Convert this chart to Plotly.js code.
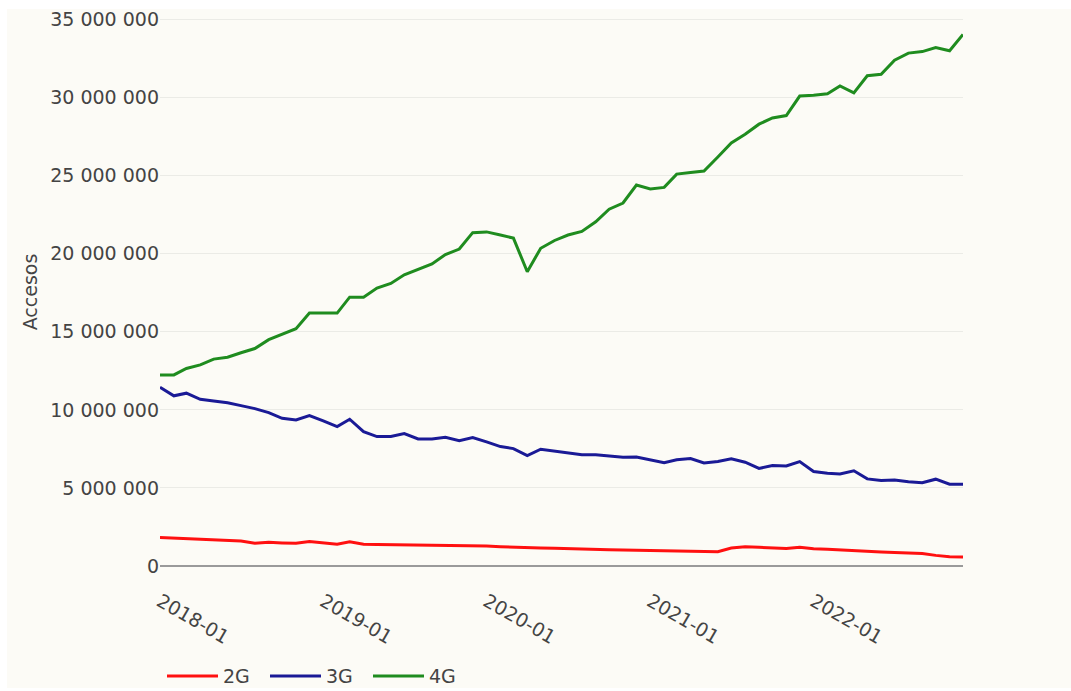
<!DOCTYPE html>
<html>
<head>
<meta charset="utf-8">
<script src="https://cdn.plot.ly/plotly-3.0.1.min.js"></script>
<style>
  html, body { margin: 0; padding: 0; background: #ffffff; width: 1071px; height: 691px; overflow: hidden; }
  #chart { position: absolute; left: 7px; top: 9px; width: 1064px; height: 679px; }
</style>
</head>
<body>
<div id="chart"></div>
<script>
const months = [
  '2018-01','2018-02','2018-03','2018-04','2018-05','2018-06','2018-07','2018-08','2018-09','2018-10','2018-11','2018-12',
  '2019-01','2019-02','2019-03','2019-04','2019-05','2019-06','2019-07','2019-08','2019-09','2019-10','2019-11','2019-12',
  '2020-01','2020-02','2020-03','2020-04','2020-05','2020-06','2020-07','2020-08','2020-09','2020-10','2020-11','2020-12',
  '2021-01','2021-02','2021-03','2021-04','2021-05','2021-06','2021-07','2021-08','2021-09','2021-10','2021-11','2021-12',
  '2022-01','2022-02','2022-03','2022-04','2022-05','2022-06','2022-07','2022-08','2022-09','2022-10','2022-11','2022-12'
];
// values in millions of accesses
const acc2G = [
  1.82, 1.78, 1.74, 1.71, 1.69, 1.67, 1.60, 1.46, 1.52, 1.48,
  1.45, 1.57, 1.50, 1.40, 1.55, 1.40, 1.38, 1.37, 1.36, 1.34,
  1.33, 1.33, 1.31, 1.30, 1.28, 1.24, 1.20, 1.17, 1.15, 1.13,
  1.10, 1.08, 1.06, 1.04, 1.03, 1.01, 0.99, 0.98, 0.97, 0.95,
  0.92, 0.92, 1.15, 1.23, 1.20, 1.16, 1.12, 1.20, 1.10, 1.07,
  1.04, 1.00, 0.95, 0.90, 0.86, 0.83, 0.80, 0.68, 0.59, 0.58
];
const acc3G = [
  11.45, 10.90, 11.07, 10.68, 10.57, 10.46, 10.27, 10.08, 9.82, 9.46,
  9.36, 9.63, 9.30, 8.93, 9.40, 8.60, 8.29, 8.29, 8.48, 8.14,
  8.14, 8.25, 8.03, 8.23, 7.95, 7.65, 7.52, 7.07, 7.48, 7.37,
  7.25, 7.12, 7.12, 7.05, 6.97, 6.98, 6.82, 6.62, 6.80, 6.88,
  6.60, 6.70, 6.86, 6.65, 6.25, 6.43, 6.41, 6.69, 6.05, 5.94,
  5.90, 6.10, 5.58, 5.47, 5.51, 5.40, 5.34, 5.56, 5.24, 5.24
];
const acc4G = [
  12.24, 12.24, 12.65, 12.88, 13.25, 13.37, 13.66, 13.93, 14.50, 14.82,
  15.20, 16.20, 16.20, 16.20, 17.22, 17.22, 17.80, 18.10, 18.65, 19.00,
  19.35, 19.95, 20.30, 21.35, 21.40, 21.20, 21.00, 18.85, 20.35, 20.85,
  21.20, 21.43, 22.05, 22.85, 23.25, 24.40, 24.15, 24.25, 25.10, 25.20,
  25.30, 26.20, 27.10, 27.65, 28.30, 28.70, 28.85, 30.10, 30.15, 30.25,
  30.75, 30.30, 31.40, 31.50, 32.40, 32.85, 32.95, 33.20, 33.00, 34.05
];
const seriesNames = ['2G', '3G', '4G'];
const seriesData = [acc2G, acc3G, acc4G];
const seriesColors = ['#ff1010', '#1a1a96', '#1f8c1f'];
const yTicks = [0, 5e6, 10e6, 15e6, 20e6, 25e6, 30e6, 35e6];
const xTickVals = ['2018-01', '2019-01', '2020-01', '2021-01', '2022-01'];

const traces = seriesNames.map((name, i) => ({
  type: 'scatter',
  mode: 'lines',
  name: name,
  x: months,
  y: seriesData[i].map(v => v * 1e6),
  line: { color: seriesColors[i], width: 3 },
  hoverinfo: 'skip'
}));

const font = { family: 'DejaVu Sans, Verdana, sans-serif', size: 19, color: '#444' };

const layout = {
  width: 1064,
  height: 679,
  paper_bgcolor: '#fcfbf6',
  plot_bgcolor: '#fcfbf6',
  separators: ', ',
  font: font,
  margin: { l: 153, r: 108, t: 9.44, b: 122, autoexpand: false },
  showlegend: true,
  legend: {
    orientation: 'h',
    x: 0.0025, xanchor: 'left',
    y: -0.201, yanchor: 'middle',
    font: font,
    itemwidth: 51,
    entrywidth: 37,
    entrywidthmode: 'pixels',
    bgcolor: 'rgba(0,0,0,0)'
  },
  xaxis: {
    type: 'date',
    range: ['2018-01-01', '2022-12-01'],
    tickmode: 'array',
    tickvals: xTickVals,
    ticktext: xTickVals,
    tickangle: 30,
    ticklabelstandoff: 20,
    ticklabeloverflow: 'allow',
    showgrid: false,
    zeroline: false,
    showline: false,
    ticks: '',
    automargin: false,
    tickfont: font
  },
  yaxis: {
    range: [0, 35.1e6],
    tickmode: 'array',
    tickvals: yTicks,
    tickformat: ',d',
    ticklabeloverflow: 'allow',
    showgrid: true,
    gridcolor: '#ebebe6',
    gridwidth: 1,
    zeroline: true,
    zerolinecolor: '#9a9a9a',
    zerolinewidth: 2,
    ticks: '',
    automargin: false,
    tickfont: font,
    title: { text: 'Accesos', font: font, standoff: 7 }
  }
};

Plotly.newPlot('chart', traces, layout, { displayModeBar: false, staticPlot: true });
</script>
</body>
</html>
